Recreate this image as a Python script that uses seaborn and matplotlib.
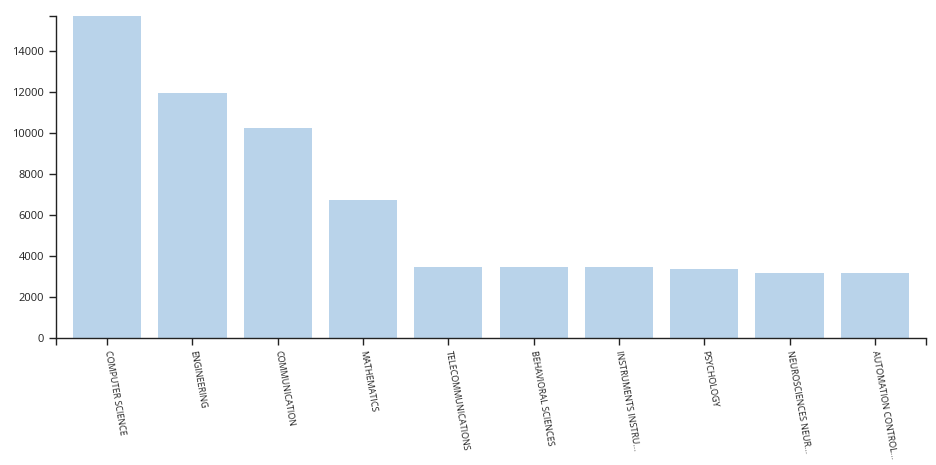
import matplotlib
matplotlib.use("Agg")
import matplotlib.pyplot as plt
import pandas as pd
import seaborn as sns

# values
categories = [
    "COMPUTER SCIENCE", "ENGINEERING", "COMMUNICATION", "MATHEMATICS",
    "TELECOMMUNICATIONS", "BEHAVIORAL SCIENCES", "INSTRUMENTS INSTRU...",
    "PSYCHOLOGY", "NEUROSCIENCES NEUR...", "AUTOMATION CONTROL...",
]
counts = [15700, 11950, 10250, 6720, 3460, 3450, 3440, 3370, 3170, 3160]

df = pd.DataFrame({"category": categories, "count": counts})

sns.set_style("white")
plt.rcParams["font.family"] = ["Open Sans", "DejaVu Sans"]

fig = plt.figure(figsize=(9.36, 4.65), dpi=100)
ax = fig.add_axes([56 / 936, 127 / 465, 870 / 936, 322 / 465])

sns.barplot(data=df, x="category", y="count", color="#b9d3ea",
            saturation=1, width=0.8, linewidth=0, ax=ax)

# band scale with a little outer padding
lo, hi = -0.6, len(categories) - 0.4
ax.set_xlim(lo, hi)
ax.set_ylim(0, max(counts))
ax.set_yticks(range(0, 15000, 2000))
ax.set_xlabel("")
ax.set_ylabel("")

# d3-style outer ticks at both ends of each axis
ax.set_xticks([lo, hi], minor=True)
ax.set_yticks([max(counts)], minor=True)

for side in ["top", "right"]:
    ax.spines[side].set_visible(False)
for side in ["left", "bottom"]:
    ax.spines[side].set_color("#222222")
    ax.spines[side].set_linewidth(1)

ax.tick_params(axis="both", which="both", direction="out", length=5,
               width=1, color="#222222", labelsize=8, labelcolor="#222222",
               bottom=True, left=True)
ax.tick_params(axis="x", pad=4)
ax.set_xticks(range(len(categories)))
ax.set_xticklabels(categories, rotation=-80, ha="left", va="center",
                   rotation_mode="anchor", fontsize=6.5)

fig.savefig("out.png", dpi=100)
